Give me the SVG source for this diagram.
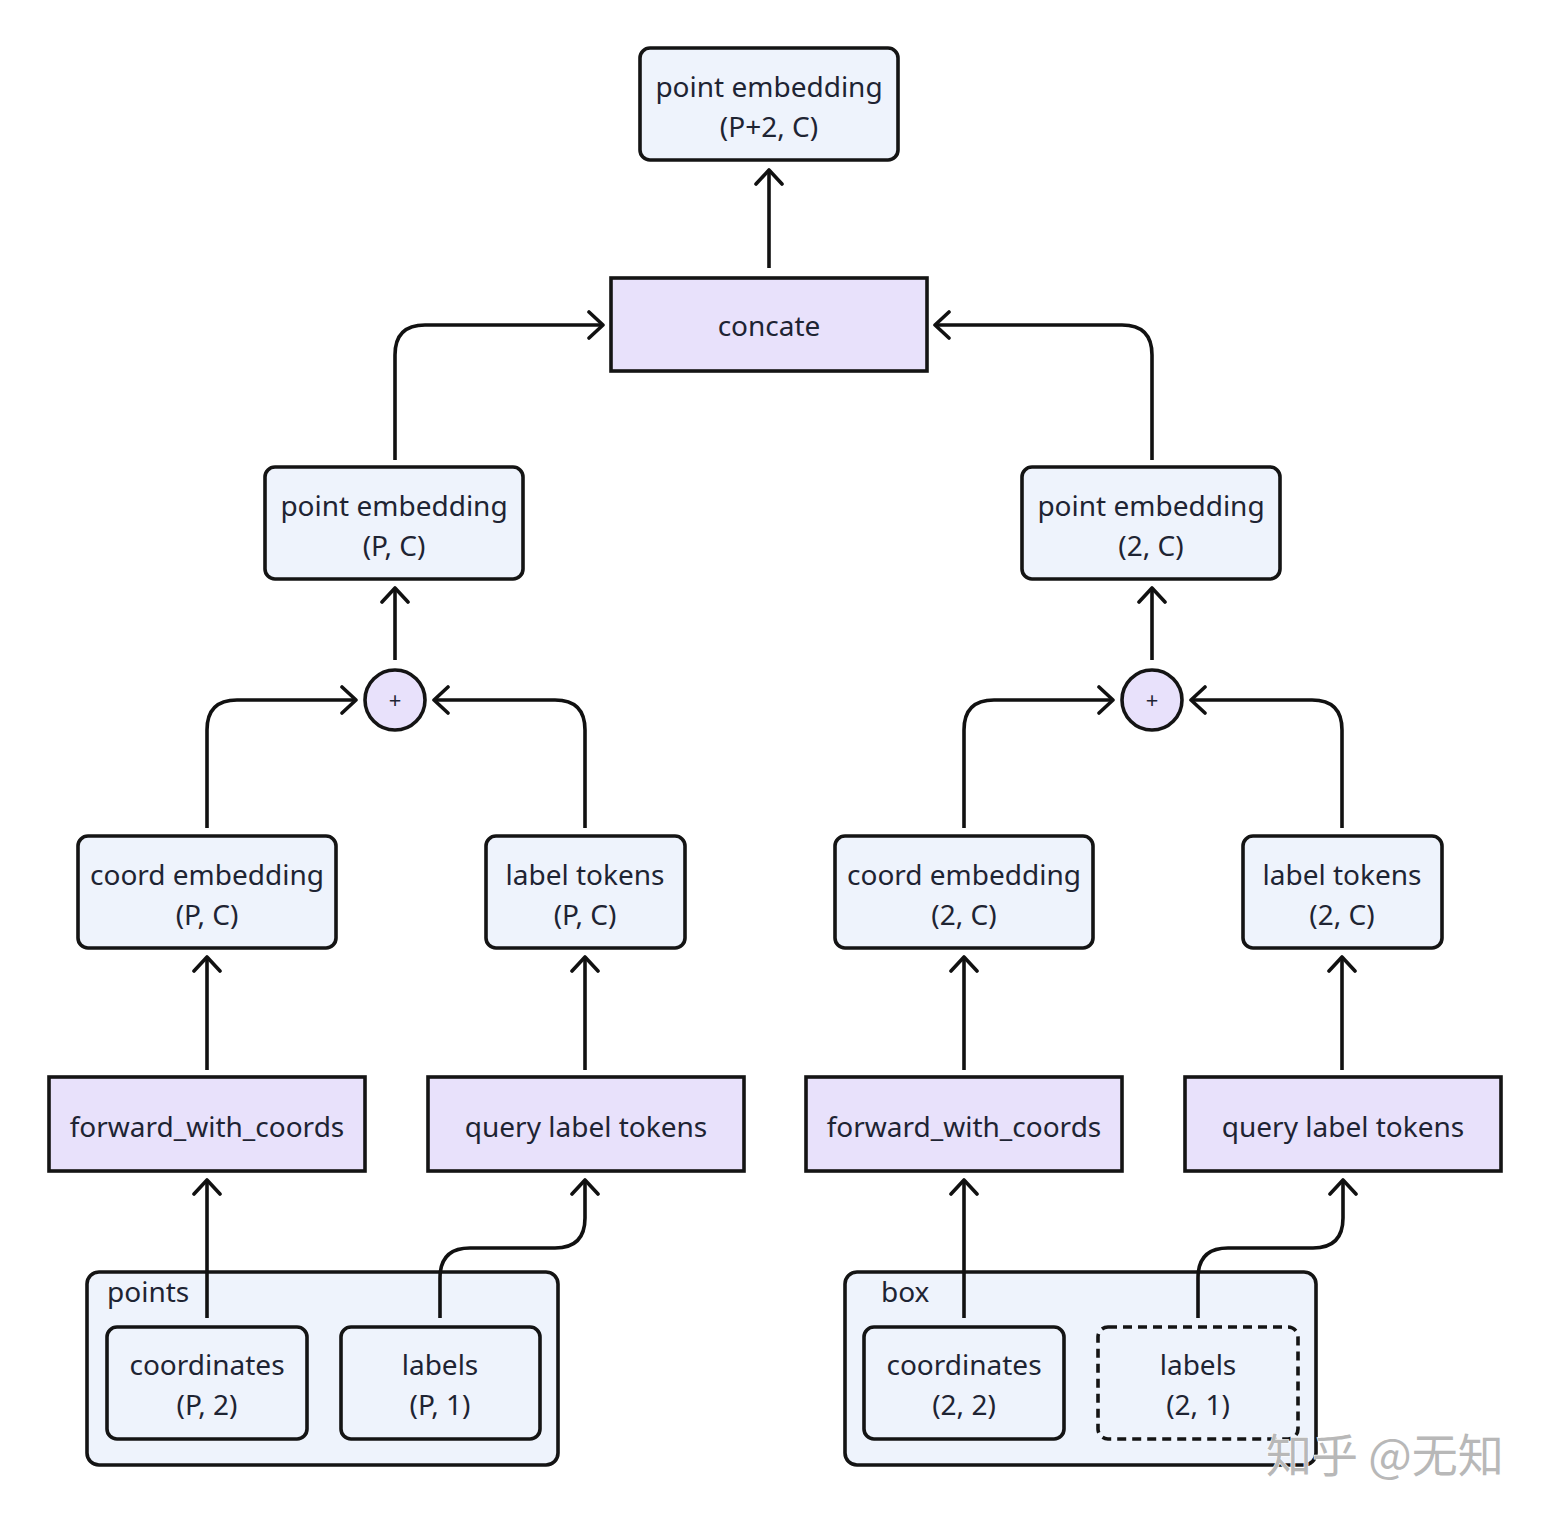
<svg xmlns="http://www.w3.org/2000/svg" width="1552" height="1516" viewBox="0 0 1552 1516">
<style>
.n{fill:#EEF3FC;stroke:#141414;stroke-width:3.6}
.op{fill:#E8E1FB;stroke:#141414;stroke-width:3.6}
.g{fill:#EEF3FC;stroke:#141414;stroke-width:3.6}
.d{fill:#EEF3FC;stroke:#141414;stroke-width:3.6;stroke-dasharray:9 6}
.t{font-family:"Noto Sans","Open Sans","DejaVu Sans",sans-serif;font-size:28px;fill:#1e2433;text-anchor:middle}
.tl{font-family:"Noto Sans","Open Sans","DejaVu Sans",sans-serif;font-size:28px;fill:#1e2433}
.c{fill:none;stroke:#111;stroke-width:3.6;marker-end:url(#a)}
.wm{font-family:"Noto Sans CJK SC",sans-serif;font-size:46px;fill:#b8b8b8;stroke:#fff;stroke-width:1.2;paint-order:stroke}
</style>
<defs>
<marker id="a" viewBox="0 0 20 30" refX="17" refY="15" markerWidth="20" markerHeight="30" markerUnits="userSpaceOnUse" orient="auto">
<path d="M3,2 L17,15 L3,28" fill="none" stroke="#111" stroke-width="3.6" stroke-linecap="round" stroke-linejoin="round"/>
</marker>
</defs>
<rect width="1552" height="1516" fill="#fff"/>

<g id="groups">
<g id="points-group"><rect class="g" x="87" y="1272" width="471" height="193" rx="12"/><text class="tl" x="107" y="1302">points</text></g>
<g id="box-group"><rect class="g" x="845" y="1272" width="471" height="193" rx="12"/><text class="tl" x="881" y="1302">box</text></g>
</g>

<g id="connectors">
<path class="c" d="M769 268 V170"/>
<path class="c" d="M395 460 V355 Q395 325 425 325 H603"/>
<path class="c" d="M1152 460 V355 Q1152 325 1122 325 H935"/>
<path class="c" d="M395 660 V588"/>
<path class="c" d="M1152 660 V588"/>
<path class="c" d="M207 828 V730 Q207 700 237 700 H356"/>
<path class="c" d="M585 828 V730 Q585 700 555 700 H434"/>
<path class="c" d="M964 828 V730 Q964 700 994 700 H1113"/>
<path class="c" d="M1342 828 V730 Q1342 700 1312 700 H1191"/>
<path class="c" d="M207 1070 V957"/>
<path class="c" d="M585 1070 V957"/>
<path class="c" d="M964 1070 V957"/>
<path class="c" d="M1342 1070 V957"/>
<path class="c" d="M207 1318 V1180"/>
<path class="c" d="M440 1318 V1278 Q440 1248 470 1248 H555 Q585 1248 585 1218 V1180"/>
<path class="c" d="M964 1318 V1180"/>
<path class="c" d="M1198 1318 V1278 Q1198 1248 1228 1248 H1313 Q1343 1248 1343 1218 V1180"/>
</g>

<g id="pe-top"><rect class="n" x="640" y="48" width="258" height="112" rx="10"/><text class="t" x="769" y="97">point embedding</text><text class="t" x="769" y="137">(P+2, C)</text></g>
<g id="concate"><rect class="op" x="611" y="278" width="316" height="93"/><text class="t" x="769" y="336">concate</text></g>
<g id="pe-left"><rect class="n" x="265" y="467" width="258" height="112" rx="10"/><text class="t" x="394" y="516">point embedding</text><text class="t" x="394" y="556">(P, C)</text></g>
<g id="pe-right"><rect class="n" x="1022" y="467" width="258" height="112" rx="10"/><text class="t" x="1151" y="516">point embedding</text><text class="t" x="1151" y="556">(2, C)</text></g>
<g id="plus-left"><circle class="op" cx="395" cy="700" r="30"/><text class="t" x="395" y="708" style="font-size:22px">+</text></g>
<g id="plus-right"><circle class="op" cx="1152" cy="700" r="30"/><text class="t" x="1152" y="708" style="font-size:22px">+</text></g>
<g id="coord-left"><rect class="n" x="78" y="836" width="258" height="112" rx="10"/><text class="t" x="207" y="885">coord embedding</text><text class="t" x="207" y="925">(P, C)</text></g>
<g id="label-left"><rect class="n" x="486" y="836" width="199" height="112" rx="10"/><text class="t" x="585" y="885">label tokens</text><text class="t" x="585" y="925">(P, C)</text></g>
<g id="coord-right"><rect class="n" x="835" y="836" width="258" height="112" rx="10"/><text class="t" x="964" y="885">coord embedding</text><text class="t" x="964" y="925">(2, C)</text></g>
<g id="label-right"><rect class="n" x="1243" y="836" width="199" height="112" rx="10"/><text class="t" x="1342" y="885">label tokens</text><text class="t" x="1342" y="925">(2, C)</text></g>
<g id="fwc-left"><rect class="op" x="49" y="1077" width="316" height="94"/><text class="t" x="207" y="1137">forward_with_coords</text></g>
<g id="qlt-left"><rect class="op" x="428" y="1077" width="316" height="94"/><text class="t" x="586" y="1137">query label tokens</text></g>
<g id="fwc-right"><rect class="op" x="806" y="1077" width="316" height="94"/><text class="t" x="964" y="1137">forward_with_coords</text></g>
<g id="qlt-right"><rect class="op" x="1185" y="1077" width="316" height="94"/><text class="t" x="1343" y="1137">query label tokens</text></g>
<g id="coords-p"><rect class="n" x="107" y="1327" width="200" height="112" rx="10"/><text class="t" x="207" y="1375">coordinates</text><text class="t" x="207" y="1415">(P, 2)</text></g>
<g id="labels-p"><rect class="n" x="341" y="1327" width="199" height="112" rx="10"/><text class="t" x="440" y="1375">labels</text><text class="t" x="440" y="1415">(P, 1)</text></g>
<g id="coords-b"><rect class="n" x="864" y="1327" width="200" height="112" rx="10"/><text class="t" x="964" y="1375">coordinates</text><text class="t" x="964" y="1415">(2, 2)</text></g>
<g id="labels-b"><rect class="d" x="1098" y="1327" width="200" height="112" rx="10"/><text class="t" x="1198" y="1375">labels</text><text class="t" x="1198" y="1415">(2, 1)</text></g>

<text class="wm" x="1266" y="1472">知乎 @无知</text>
</svg>
